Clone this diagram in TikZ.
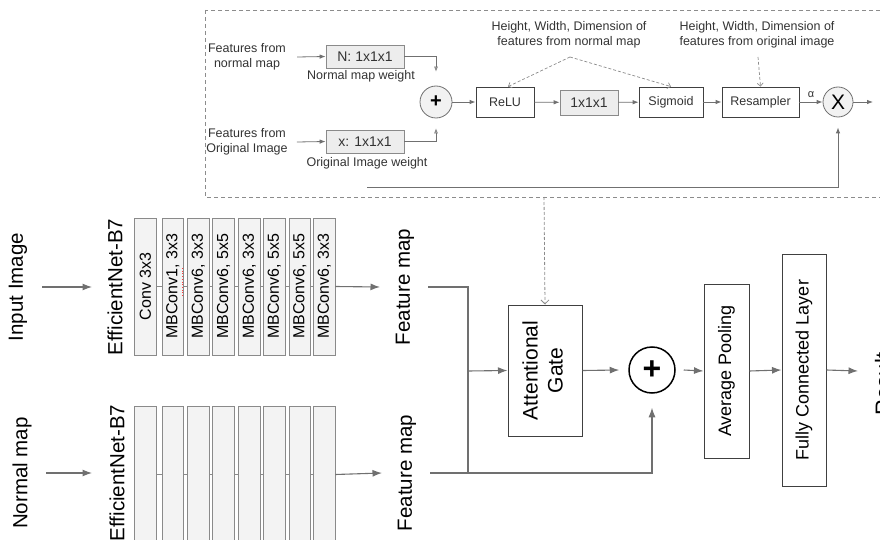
\documentclass[tikz,border=0pt]{standalone}
\usepackage{fontspec}
\setmainfont{Liberation Sans}
\usetikzlibrary{arrows.meta}
\definecolor{lnc}{HTML}{707070}
\definecolor{boxc}{HTML}{8A8A8A}
\definecolor{fillc}{HTML}{F3F3F3}
\definecolor{txtc}{HTML}{333333}
\definecolor{dashc}{HTML}{8C8C8C}
\begin{document}
\begin{tikzpicture}[x=1pt,y=-1pt,
  every node/.style={inner sep=0pt},
  sm/.style={font=\fontsize{12.5}{15}\selectfont, text=txtc, align=center},
  bigt/.style={font=\fontsize{20.5}{24}\selectfont, rotate=90},
  wb/.style={draw=black!75, fill=white, line width=0.8pt, font=\fontsize{12.5}{15}\selectfont, text=txtc},
  gb/.style={draw=boxc, fill=black!7, line width=0.8pt, font=\fontsize{14}{16}\selectfont, text=txtc},
  arw/.style={draw=lnc, line width=0.8pt, -{Latex[length=6pt,width=4.5pt]}},
  oa/.style={draw=lnc, line width=0.7pt, -{Latex[open,length=5pt,width=4pt]}},
  da/.style={draw=dashc, line width=0.7pt, dash pattern=on 3pt off 2pt, -{Straight Barb[length=3pt,width=6pt]}},
  eb/.style={draw=boxc, fill=fillc, line width=0.9pt, minimum width=21.5pt, minimum height=137pt, font=\fontsize{16}{18}\selectfont},
  mb/.style={draw=black!75, line width=1pt, font=\fontsize{18}{22}\selectfont},
  ba/.style={draw=lnc, line width=1.1pt, -{Latex[length=9.5pt,width=7pt]}},
  bl/.style={draw=lnc, line width=1.1pt},
]
\useasboundingbox (0,0) rectangle (880,540);

% ---------- attention gate detail (dashed frame) ----------
\draw[dashc, line width=0.8pt, dash pattern=on 4pt off 3pt] (205,10) rectangle (905,197);

\node[sm] (fnm) at (247,57) {Features from\\normal map};
\node[sm] (foi) at (247,142) {Features from\\Original Image};
\node[gb, minimum width=78pt, minimum height=23pt] (N) at (365,56.5) {N: 1x1x1};
\node[gb, minimum width=78pt, minimum height=23pt] (X1) at (365,141.5) {x: 1x1x1};
\node[sm] (nmw) at (361,76) {Normal map weight};
\node[sm] (oiw) at (367,163) {Original Image weight};
\node[circle, draw=lnc, fill=black!5, minimum size=32pt, line width=0.8pt, font=\fontsize{20}{20}\selectfont\bfseries] (sp) at (436,102) {+};
\node[wb, minimum width=58pt, minimum height=30pt] (relu) at (505,102) {ReLU};
\node[gb, minimum width=58pt, minimum height=25pt] (cc) at (589,102.5) {1x1x1};
\node[wb, minimum width=64pt, minimum height=30pt] (sig) at (671,102) {Sigmoid};
\node[wb, minimum width=77pt, minimum height=30pt] (res) at (760.5,102) {Resampler};
\node[circle, draw=lnc, fill=black!5, minimum size=30pt, line width=0.8pt, font=\fontsize{21}{21}\selectfont] (mx) at (838,102) {X};
\node[sm] (h1) at (569,35) {Height, Width, Dimension of\\features from normal map};
\node[sm] (h2) at (757,35) {Height, Width, Dimension of\\features from original image};
\coordinate (a1) at (570,57);
\coordinate (a2) at (758,57);
\coordinate (outx) at (873,102);
\coordinate (r0) at (367,187);
\coordinate (g0) at (544,197);

\draw[arw] ([xshift=11pt]fnm.east) -- (N.west);
\draw[arw] ([xshift=9pt]foi.east) -- (X1.west);
\draw[oa] (N.east) -| ([yshift=14pt]sp.north);
\draw[oa] (X1.east) -| ([yshift=-10pt]sp.south);
\draw[arw] (sp) -- (relu);
\draw[arw] (relu) -- (cc);
\draw[arw] (cc) -- (sig);
\draw[arw] (sig) -- (res);
\draw[arw] (res) -- node[above=4pt, font=\fontsize{11}{11}\selectfont, text=txtc] (alpha) {α} (mx);
\draw[arw] (mx) -- (outx);
\draw[da] (a1) -- ([xshift=3pt]relu.north);
\draw[da] (a1) -- (sig.north);
\draw[da] (a2) -- (res.north);
\draw[arw] (r0) -| ([yshift=-10pt]mx.south);

% ---------- main pipeline ----------
\node[bigt] (inimg) at (18,287) {Input Image};
\node[bigt] (eff1) at (115,287) {EfficientNet-B7};
\node[bigt] (fm1) at (405,287) {Feature map};
\node[bigt] (nmap) at (22,473) {Normal map};
\node[bigt] (eff2) at (117,473) {EfficientNet-B7};
\node[bigt] (fm2) at (407,473) {Feature map};

\node[eb] (b1) at (145.3,286.5) {\rotatebox{90}{Conv 3x3}};
\node[eb] (b2) at (172.8,286.5) {\rotatebox{90}{MBConv1, 3x3}};
\node[eb] (b3) at (198.2,286.5) {\rotatebox{90}{MBConv6, 3x3}};
\node[eb] (b4) at (223.5,286.5) {\rotatebox{90}{MBConv6, 5x5}};
\node[eb] (b5) at (249.2,286.5) {\rotatebox{90}{MBConv6, 3x3}};
\node[eb] (b6) at (274.2,286.5) {\rotatebox{90}{MBConv6, 5x5}};
\node[eb] (b7) at (299.8,286.5) {\rotatebox{90}{MBConv6, 5x5}};
\node[eb] (b8) at (324.2,286.5) {\rotatebox{90}{MBConv6, 3x3}};
\draw[red!75, dotted, line width=0.7pt] (182.6,268) -- (182.6,297);

\node[eb] (bb1) at (145.3,474.5) {};
\node[eb] (bb2) at (172.8,474.5) {};
\node[eb] (bb3) at (198.2,474.5) {};
\node[eb] (bb4) at (223.5,474.5) {};
\node[eb] (bb5) at (249.2,474.5) {};
\node[eb] (bb6) at (274.2,474.5) {};
\node[eb] (bb7) at (299.8,474.5) {};
\node[eb] (bb8) at (324.2,474.5) {};

\foreach \p/\q in {1/2,2/3,3/4,4/5,5/6,6/7,7/8}{
  \draw[draw=boxc, line width=0.9pt] (b\p.east) -- (b\q.west);
  \draw[draw=boxc, line width=0.9pt] (bb\p.east) -- (bb\q.west);
}

\node[mb, minimum width=74pt, minimum height=131pt] (gate) at (545,370.5)
  {\rotatebox{90}{\fontsize{21}{25}\selectfont\begin{tabular}{@{}c@{}}Attentional\\Gate\end{tabular}}};
\node[circle, draw=black, line width=1.5pt, minimum size=46pt, font=\fontsize{32}{32}\selectfont\bfseries] (bp) at (652,370) {+};
\node[mb, minimum width=45pt, minimum height=174pt] (avg) at (726.5,371) {\rotatebox{90}{Average Pooling}};
\node[mb, minimum width=44pt, minimum height=232pt] (fc) at (804,370) {\rotatebox{90}{Fully Connected Layer}};
\node[bigt, font=\fontsize{22}{24}\selectfont] (result) at (883,384) {Result};
\coordinate (j) at (468,371);
\coordinate (rout) at (858,371);

\draw[ba] ([xshift=24pt]inimg.center) -- ([xshift=-23pt]eff1.center);
\draw[ba] ([xshift=24pt]nmap.center) -- ([xshift=-25pt]eff2.center);
\draw[ba] (b8.east) -- ([xshift=-25pt]fm1.center);
\draw[ba] (bb8.east) -- ([xshift=-25pt]fm2.center);
\draw[bl] ([xshift=23pt]fm1.center) -| (j);
\draw[bl] (j) -- (j |- fm2.center);
\draw[ba] (j) -- (gate.west);
\draw[ba] ([xshift=23pt]fm2.center) -| ([yshift=-14pt]bp.south);
\draw[da, line width=0.8pt, -{Straight Barb[length=4pt,width=8pt]}] (g0) -- (gate.north);
\draw[ba] (gate.east) -- ([xshift=-9pt]bp.west);
\draw[ba] ([xshift=8pt]bp.east) -- (avg.west);
\draw[ba] (avg.east) -- (fc.west);
\draw[ba] (fc.east) -- (rout);
\end{tikzpicture}
\end{document}
